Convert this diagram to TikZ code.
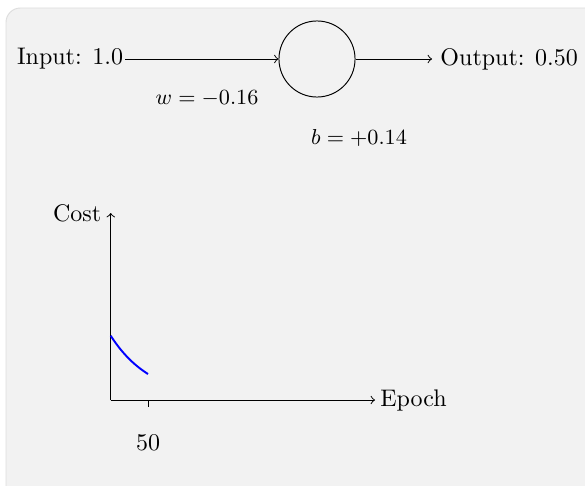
\documentclass[tikz,border=0pt]{standalone}
\usepackage{tikz}
\definecolor{panelfill}{HTML}{F2F2F2}
\definecolor{panelline}{HTML}{DEDEDE}
\tikzset{
  lbl/.style={font=\normalsize},
  wlbl/.style={font=\small},
  neuron/.style={circle, draw, minimum size=31.7pt, inner sep=0pt},
  conn/.style={->, line width=0.4pt},
  cost curve/.style={blue, line width=0.8pt},
}
\begin{document}
\begin{tikzpicture}[x=0.416667pt, y=-0.416667pt]
\useasboundingbox (0,0) rectangle (585,485);
\begin{scope}
\clip (0,0) rectangle (585,485);
\filldraw[fill=panelfill, draw=panelline, rounded corners=6pt] (6,8) rectangle (640,540);
\end{scope}
% neuron part
\node[lbl, anchor=east, inner xsep=0.6pt] (in) at (125,59) {Input: 1.0};
\node[neuron] (n) at (317,59) {};
\node[lbl, anchor=west] (out) at (432,59) {Output: 0.50};
\draw[conn] (in) -- (n);
\draw[conn] (n) -- (out);
\node[wlbl] (w) at (207,99) {$w = -0.16$};
\node[wlbl] (b) at (359,138) {$b = +0.14$};
% cost plot
\coordinate (O) at (110.7,400);
\coordinate (ytip) at (110.7,213);
\node[lbl, anchor=east, inner xsep=1pt] (cost) at (104,213) {Cost};
\node[lbl, anchor=west, inner xsep=2pt] (epoch) at (375,400) {Epoch};
\draw[conn] (O) -- (ytip);
\draw[conn] (O) -- (epoch);
\coordinate (t50) at (148,400);
\coordinate (t50b) at (148,407);
\draw (t50) -- (t50b);
\node[lbl] (l50) at (148,443) {50};
\draw[cost curve] plot[domain=0:37.3, samples=40, smooth] ({110.7+\x},{400-64.3*exp(-0.02427*\x)});
\end{tikzpicture}
\end{document}
